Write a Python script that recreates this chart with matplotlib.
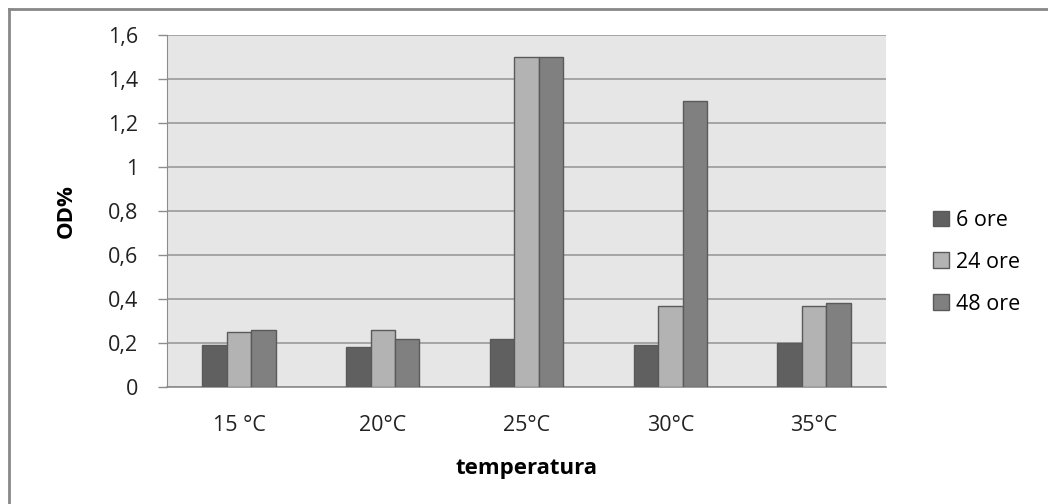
import matplotlib
import matplotlib.pyplot as plt
import numpy as np
from matplotlib.lines import Line2D

matplotlib.use("Agg")

# Data
categories = ["15 °C", "20°C", "25°C", "30°C", "35°C"]
ore_6 = [0.19, 0.18, 0.22, 0.19, 0.20]
ore_24 = [0.25, 0.26, 1.50, 0.37, 0.37]
ore_48 = [0.26, 0.22, 1.50, 1.30, 0.38]
series_names = ["6 ore", "24 ore", "48 ore"]
y_ticks = [0, 0.2, 0.4, 0.6, 0.8, 1.0, 1.2, 1.4, 1.6]
y_tick_labels = ["0", "0,2", "0,4", "0,6", "0,8", "1", "1,2", "1,4", "1,6"]

plt.rcParams["font.family"] = ["Open Sans", "DejaVu Sans"]
fs = 15.5

fig = plt.figure(figsize=(10.48, 5.04), dpi=100)
ax = fig.add_axes([0.1594, 0.2321, 0.686, 0.6984])
ax.set_facecolor("#e6e6e6")

x = np.arange(len(categories))
w = 0.17
colors = ["#606060", "#b3b3b3", "#808080"]
for i, (vals, name) in enumerate(zip([ore_6, ore_24, ore_48], series_names)):
    ax.bar(x + (i - 1) * w, vals, width=w, color=colors[i],
           edgecolor="#5a5a5a", linewidth=1, label=name, zorder=3)

ax.set_xlim(-0.5, len(categories) - 0.5)
ax.set_ylim(0, 1.6)
ax.set_yticks(y_ticks)
ax.set_yticklabels(y_tick_labels, fontsize=fs, color="#222222")
ax.set_xticks(x)
ax.set_xticklabels(categories, fontsize=fs, color="#222222")
ax.tick_params(axis="x", length=0, pad=20)
ax.tick_params(axis="y", length=6.5, width=1, color="#8c8c8c", pad=14.5)
ax.grid(axis="y", color="#9a9a9a", linewidth=1.2, zorder=1)

for side in ["top", "right"]:
    ax.spines[side].set_visible(False)
ax.spines["left"].set_color("#8c8c8c")
ax.spines["bottom"].set_color("#8c8c8c")
ax.spines["bottom"].set_linewidth(1.2)

ax.set_xlabel("temperatura", fontsize=16, fontweight="bold", labelpad=16)
ax.set_ylabel("OD%", fontsize=16, fontweight="bold", labelpad=22)

ax.legend(loc="upper left", bbox_to_anchor=(933 / 1048, 1 - 210 / 504),
          bbox_transform=fig.transFigure, frameon=False, fontsize=fs,
          handlelength=0.75, handleheight=0.75, handletextpad=0.32,
          labelspacing=0.97, borderaxespad=0, borderpad=0)

# outer chart border (only left and top visible in the crop)
fig.add_artist(Line2D([9 / 1048, 9 / 1048], [0, 1 - 9 / 504],
                      transform=fig.transFigure, color="#888888", lw=2))
fig.add_artist(Line2D([9 / 1048, 1], [1 - 9 / 504, 1 - 9 / 504],
                      transform=fig.transFigure, color="#888888", lw=2))

plt.savefig("out.png", dpi=100)
plt.close()
